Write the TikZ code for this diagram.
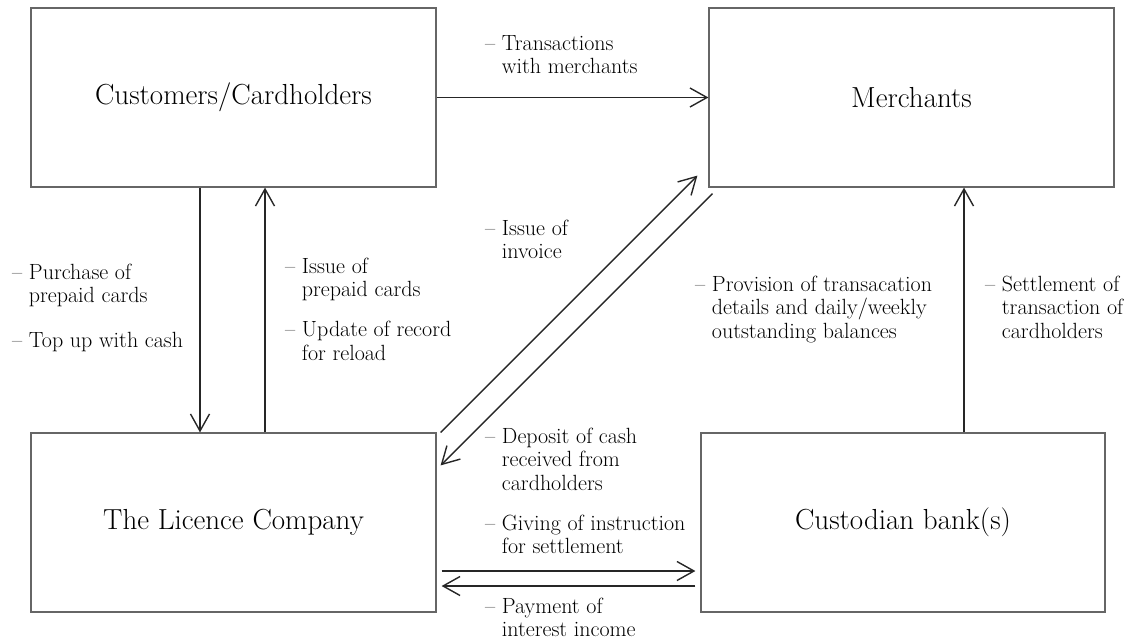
\documentclass[tikz,border=0pt]{standalone}
\usepackage{tikz}
\usetikzlibrary{arrows.meta}
\tikzset{
  box/.style={draw=black!60, line width=1.2pt, minimum width=405pt, minimum height=179pt,
    inner sep=0pt, font=\fontsize{29}{34}\selectfont, text=black},
  flow/.style={draw=black!85, line width=1.4pt,
    -{Straight Barb[length=17pt,width=19pt,line width=1.4pt]}},
  remark/.style={anchor=base west, inner sep=0pt, font=\fontsize{22}{23.5}\selectfont, text=black}
}
\newcommand{\flowtext}[1]{\begin{tabular}[t]{@{}l@{\ }l@{}}#1\end{tabular}}

\begin{document}
\begin{tikzpicture}[x=1pt,y=-1pt]
\useasboundingbox (0,0) rectangle (1130,640);
% parties
\node[box] (cust) at (233.5,97.5) {Customers/Cardholders};
\node[box] (merch) at (911.5,97.5) {Merchants};
\node[box] (lic) at (233.5,522.5) {The Licence Company};
\node[box, minimum width=404pt] (bank) at (903,522.5) {Custodian bank(s)};

% flows
\draw[flow] (cust.east) -- (merch.west);
\draw[flow] ([xshift=-33.5pt]cust.south) -- ([xshift=-33.5pt]lic.north);
\draw[flow] ([xshift=31.5pt]lic.north) -- ([xshift=31.5pt]cust.south);
\draw[flow] ([shift={(4,0)}]lic.north east) -- ([shift={(-11,-12)}]merch.south west);
\draw[flow] ([shift={(4,6)}]merch.south west) -- ([shift={(4,33)}]lic.north east);
\draw[flow] ([xshift=61pt]bank.north) -- ([xshift=61pt]bank.north |- merch.south);
\draw[flow, shorten <=5pt, shorten >=5pt] ([yshift=-48.5pt]lic.east) -- ([yshift=-48.5pt]lic.east -| bank.west);
\draw[flow, shorten <=5pt, shorten >=5pt] ([yshift=-63.5pt]bank.west) -- ([yshift=-63.5pt]bank.west -| lic.east);

% labels
\node[remark] (trans) at (485,50) {\flowtext{--&Transactions\\&with merchants}};
\node[remark] (invoice) at (485,235) {\flowtext{--&Issue of\\&invoice}};
\node[remark] (buy) at (12,279) {\flowtext{--&Purchase of\\&prepaid cards\\[21.5pt]--&Top up with cash}};
\node[remark] (issue) at (285,273) {\flowtext{--&Issue of\\&prepaid cards\\[16.5pt]--&Update of record\\&for reload}};
\node[remark] (provision) at (695,291) {\flowtext{--&Provision of transacation\\&details and daily/weekly\\&outstanding balances}};
\node[remark] (settle) at (985,291) {\flowtext{--&Settlement of\\&transaction of\\&cardholders}};
\node[remark] (deposit) at (485,443) {\flowtext{--&Deposit of cash\\&received from\\&cardholders}};
\node[remark] (giving) at (485,530) {\flowtext{--&Giving of instruction\\&for settlement}};
\node[remark] (payment) at (485,613) {\flowtext{--&Payment of\\&interest income}};
\end{tikzpicture}
\end{document}
